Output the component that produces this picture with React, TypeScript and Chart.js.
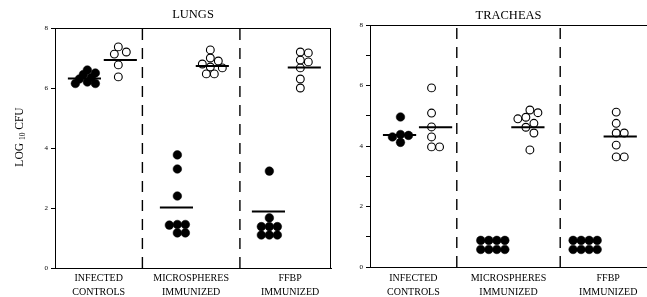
import React, { useEffect, useRef } from "react";
import { Chart, registerables } from "chart.js";

Chart.register(...registerables);

const SERIF = "'Liberation Serif', 'Times New Roman', Times, serif";

// ---------- data ----------
const groupLabels: string[][] = [
  ["INFECTED", "CONTROLS"],
  ["MICROSPHERES", "IMMUNIZED"],
  ["FFBP", "IMMUNIZED"],
];
const yMin = 0;
const yMax = 8;

// LUNGS (log10 CFU)
const lungsFilled: number[][] = [
  [6.6, 6.5, 6.45, 6.35, 6.3, 6.2, 6.15, 6.15],
  [3.77, 3.3, 2.4, 1.45, 1.45, 1.43, 1.17, 1.17],
  [3.23, 1.67, 1.38, 1.38, 1.38, 1.1, 1.1, 1.1],
];
const lungsOpen: number[][] = [
  [7.37, 7.2, 7.13, 6.77, 6.37],
  [7.27, 7.0, 6.9, 6.8, 6.7, 6.67, 6.47, 6.47],
  [7.2, 7.17, 6.93, 6.87, 6.67, 6.3, 6.0],
];
const lungsFilledMean: (number | null)[] = [6.32, 2.02, 1.88];
const lungsOpenMean: (number | null)[] = [6.93, 6.73, 6.68];
const lungsDividers = [0.95, 2.01];

// TRACHEAS (log10 CFU)
const tracheasFilled: number[][] = [
  [4.96, 4.38, 4.35, 4.3, 4.12],
  [0.88, 0.88, 0.88, 0.88, 0.58, 0.58, 0.58, 0.58],
  [0.88, 0.88, 0.88, 0.88, 0.58, 0.58, 0.58, 0.58],
];
const tracheasOpen: number[][] = [
  [5.92, 5.09, 4.63, 4.3, 3.97, 3.97],
  [5.19, 5.1, 4.95, 4.9, 4.75, 4.62, 4.43, 3.87],
  [5.12, 4.75, 4.43, 4.43, 4.03, 3.64, 3.64],
];
const tracheasFilledMean: (number | null)[] = [4.36, null, null];
const tracheasOpenMean: (number | null)[] = [4.62, 4.62, 4.31];
const tracheasDividers = [0.94, 2.06];

// ---------- helpers ----------
function swarm(values: number[], center: number, minDist: number) {
  const PX_X = 92;
  const PX_Y = 30;
  const STEP = 4;
  const placed: { dx: number; v: number }[] = [];
  values.forEach((v) => {
    for (let k = 0; k < 80; k++) {
      const off = k === 0 ? 0 : (k % 2 ? 1 : -1) * Math.ceil(k / 2) * STEP;
      if (placed.every((p) => Math.hypot(p.dx - off, (p.v - v) * PX_Y) >= minDist)) {
        placed.push({ dx: off, v });
        break;
      }
    }
  });
  const lo = Math.min(...placed.map((p) => p.dx));
  const hi = Math.max(...placed.map((p) => p.dx));
  const shift = (lo + hi) / 2;
  return placed.map((p) => ({ x: center + (p.dx - shift) / PX_X, y: p.v }));
}

function meanLine(x0: number, x1: number, m: number) {
  return {
    type: "line",
    data: [
      { x: x0, y: m },
      { x: x1, y: m },
    ],
    showLine: true,
    borderColor: "#000",
    borderWidth: 2,
    pointRadius: 0,
    order: 0,
  };
}

const framePlugin = {
  id: "frame",
  afterDraw(chart: any, _args: any, opts: any) {
    const { ctx, chartArea: a } = chart;
    ctx.save();
    ctx.strokeStyle = "#000";
    ctx.lineWidth = 1;
    ctx.beginPath();
    ctx.moveTo(a.left, a.top + 0.5);
    ctx.lineTo(a.right, a.top + 0.5);
    if (opts.right) {
      ctx.moveTo(a.right - 0.5, a.top);
      ctx.lineTo(a.right - 0.5, a.bottom);
    }
    ctx.stroke();
    if (opts.yLabel) {
      const parts = [
        { t: "LOG ", size: 11.5, dy: 0 },
        { t: "10", size: 7.5, dy: 3 },
        { t: " CFU", size: 11.5, dy: 0 },
      ];
      ctx.fillStyle = "#000";
      ctx.textBaseline = "middle";
      ctx.textAlign = "left";
      let total = 0;
      parts.forEach((p) => {
        ctx.font = `${p.size}px ${SERIF}`;
        total += ctx.measureText(p.t).width;
      });
      ctx.translate(opts.yLabelX, opts.yLabelY);
      ctx.rotate(-Math.PI / 2);
      let x = -total / 2;
      parts.forEach((p) => {
        ctx.font = `${p.size}px ${SERIF}`;
        ctx.fillText(p.t, x, p.dy);
        x += ctx.measureText(p.t).width;
      });
    }
    ctx.restore();
  },
};

type PanelSpec = {
  title: string;
  filled: number[][];
  open: number[][];
  filledMean: (number | null)[];
  openMean: (number | null)[];
  dividers: number[];
  yStep: number;
  yAxisWidth: number;
  xAxisHeight: number;
  xPad: number;
  titlePad: { top: number; bottom: number };
  rightPad: number;
  rightBorder: boolean;
  yLabel: boolean;
};

function makeConfig(p: PanelSpec): any {
  const datasets: any[] = [];
  const bounds = [0, ...p.dividers, 3];
  const centers = groupLabels.map((_, g) => (bounds[g] + bounds[g + 1]) / 2 + (g === 2 ? 0.05 : 0));
  groupLabels.forEach((_, g) => {
    const fm = p.filledMean[g];
    const om = p.openMean[g];
    if (fm != null) datasets.push(meanLine(g + 0.14, g + 0.5, fm));
    if (om != null) datasets.push(meanLine(g + 0.53, g + 0.89, om));
  });
  groupLabels.forEach((_, g) => {
    datasets.push({
      type: "scatter",
      data: swarm(p.filled[g], g + 0.33, 5.5),
      pointRadius: 4.3,
      pointBackgroundColor: "#000",
      pointBorderColor: "#000",
      pointBorderWidth: 0.5,
      order: 1,
    });
    datasets.push({
      type: "scatter",
      data: swarm(p.open[g], g + 0.71, 7.5),
      pointRadius: 3.9,
      pointBackgroundColor: "rgba(255,255,255,0)",
      pointBorderColor: "#000",
      pointBorderWidth: 1.1,
      order: 1,
    });
  });
  p.dividers.forEach((d) =>
    datasets.push({
      type: "line",
      data: [
        { x: d, y: yMin },
        { x: d, y: yMax },
      ],
      showLine: true,
      borderColor: "#000",
      borderWidth: 1.4,
      borderDash: [11, 8],
      pointRadius: 0,
      order: 2,
    })
  );

  return {
    type: "scatter",
    data: { datasets },
    plugins: [framePlugin],
    options: {
      responsive: false,
      animation: false,
      devicePixelRatio: 1,
      layout: { autoPadding: false, padding: { left: 0, right: p.rightPad, top: 0, bottom: 0 } },
      plugins: {
        legend: { display: false },
        tooltip: { enabled: false },
        title: {
          display: true,
          text: p.title,
          fullSize: false,
          color: "#000",
          font: { family: SERIF, size: 12.5, weight: "normal", lineHeight: 1.2 },
          padding: p.titlePad,
        },
        frame: {
          right: p.rightBorder,
          yLabel: p.yLabel,
          yLabelX: 20,
          yLabelY: 137,
        },
      },
      scales: {
        x: {
          type: "linear",
          min: 0,
          max: 3,
          grid: { display: false, drawTicks: false },
          border: { display: true, color: "#000", width: 1 },
          afterBuildTicks: (s: any) => {
            s.ticks = centers.map((v) => ({ value: v }));
          },
          afterFit: (s: any) => {
            s.height = p.xAxisHeight;
            s.paddingLeft = 0;
            s.paddingRight = 0;
          },
          ticks: {
            autoSkip: false,
            maxRotation: 0,
            minRotation: 0,
            padding: p.xPad,
            color: "#000",
            font: { family: SERIF, size: 10, lineHeight: 1.4 },
            callback: (_v: any, i: number) => groupLabels[i],
          },
        },
        y: {
          type: "linear",
          min: yMin,
          max: yMax,
          grid: {
            display: true,
            drawOnChartArea: false,
            drawTicks: true,
            tickLength: 4,
            color: "#000",
            lineWidth: 1,
          },
          border: { display: true, color: "#000", width: 1 },
          afterFit: (s: any) => {
            s.width = p.yAxisWidth;
            s.paddingTop = 0;
            s.paddingBottom = 0;
          },
          ticks: {
            stepSize: p.yStep,
            padding: 3,
            color: "#000",
            font: { family: SERIF, size: 7 },
            callback: (v: number) => (v % 2 === 0 ? String(v) : ""),
          },
        },
      },
    },
  };
}

const lungsSpec: PanelSpec = {
  title: "LUNGS",
  filled: lungsFilled,
  open: lungsOpen,
  filledMean: lungsFilledMean,
  openMean: lungsOpenMean,
  dividers: lungsDividers,
  yStep: 2,
  yAxisWidth: 55,
  xAxisHeight: 29,
  xPad: 3,
  titlePad: { top: 7.5, bottom: 5.5 },
  rightPad: 4,
  rightBorder: true,
  yLabel: true,
};

const tracheasSpec: PanelSpec = {
  title: "TRACHEAS",
  filled: tracheasFilled,
  open: tracheasOpen,
  filledMean: tracheasFilledMean,
  openMean: tracheasOpenMean,
  dividers: tracheasDividers,
  yStep: 1,
  yAxisWidth: 35,
  xAxisHeight: 30,
  xPad: 4,
  titlePad: { top: 8, bottom: 2 },
  rightPad: 0,
  rightBorder: false,
  yLabel: false,
};

function Panel({ spec, left, width }: { spec: PanelSpec; left: number; width: number }) {
  const ref = useRef<HTMLCanvasElement | null>(null);
  useEffect(() => {
    if (!ref.current) return;
    const chart = new Chart(ref.current, makeConfig(spec));
    return () => chart.destroy();
  }, [spec]);
  return (
    <canvas
      ref={ref}
      width={width}
      height={297}
      style={{ position: "absolute", left, top: 0, width, height: 297, display: "block" }}
    />
  );
}

export default function App() {
  return (
    <div
      style={{
        position: "fixed",
        left: 0,
        top: 0,
        width: 647,
        height: 297,
        background: "#fff",
        overflow: "hidden",
      }}
    >
      <Panel spec={lungsSpec} left={0} width={335} />
      <Panel spec={tracheasSpec} left={335} width={312} />
    </div>
  );
}
